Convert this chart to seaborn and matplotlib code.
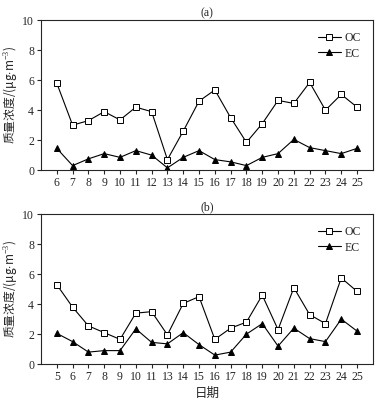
import matplotlib
matplotlib.use("Agg")
import matplotlib.pyplot as plt
import seaborn as sns
import pandas as pd

days_a = ["6", "7", "8", "9", "10", "11", "12", "13", "14", "15", "16", "17", "18", "19", "20", "21", "22", "23", "24", "25"]
oc_a = [5.8, 3.0, 3.3, 3.9, 3.35, 4.2, 3.9, 0.7, 2.6, 4.6, 5.35, 3.5, 1.85, 3.1, 4.65, 4.45, 5.85, 4.0, 5.05, 4.2]
ec_a = [1.45, 0.3, 0.75, 1.1, 0.85, 1.3, 1.0, 0.15, 0.85, 1.3, 0.7, 0.55, 0.3, 0.85, 1.1, 2.05, 1.5, 1.3, 1.1, 1.45]

days_b = ["5", "6", "7", "8", "9", "10", "11", "13", "14", "15", "16", "17", "18", "19", "20", "21", "22", "23", "24", "25"]
oc_b = [5.3, 3.8, 2.55, 2.1, 1.65, 3.4, 3.5, 1.95, 4.05, 4.5, 1.65, 2.4, 2.8, 4.6, 2.3, 5.1, 3.3, 2.7, 5.75, 4.85]
ec_b = [2.05, 1.5, 0.8, 0.9, 0.9, 2.35, 1.45, 1.35, 2.1, 1.3, 0.6, 0.8, 2.0, 2.7, 1.2, 2.4, 1.7, 1.5, 3.0, 2.2]

sns.set_style("ticks")
plt.rcParams['font.family'] = ['Liberation Serif', 'Noto Sans CJK SC']
plt.rcParams['mathtext.fontset'] = 'custom'
plt.rcParams['mathtext.rm'] = 'Liberation Serif'

fig = plt.figure(figsize=(3.85, 4.05), dpi=100)
ax1 = fig.add_axes([0.1065, 0.580, 0.862, 0.370])
ax2 = fig.add_axes([0.1065, 0.101, 0.862, 0.370])

ylabel = "质量浓度/(μg$\\cdot$m$^{-3}$)"
cjk = ['Noto Sans CJK SC', 'DejaVu Sans']

def draw(ax, days, oc, ec, title, xlabel):
    df = pd.DataFrame({"pos": range(len(days)), "OC": oc, "EC": ec})
    sns.lineplot(data=df, x="pos", y="OC", ax=ax, color="black", lw=0.8,
                 marker="s", markersize=4.5, markerfacecolor="white",
                 markeredgecolor="black", markeredgewidth=0.7, label="OC")
    sns.lineplot(data=df, x="pos", y="EC", ax=ax, color="black", lw=0.8,
                 marker="^", markersize=5, markerfacecolor="black",
                 markeredgecolor="black", markeredgewidth=0.7, label="EC")
    ax.set_xlim(-1, len(days))
    ax.set_ylim(0, 10)
    ax.set_yticks([0, 2, 4, 6, 8, 10])
    ax.set_xticks(range(len(days)))
    ax.set_xticklabels(days)
    ax.tick_params(labelsize=8.5, length=3, width=0.8, direction="out", pad=2)
    for s in ax.spines.values():
        s.set_linewidth(0.8)
        s.set_visible(True)
    ax.set_title(title, fontsize=8.5, pad=3)
    ax.set_ylabel(ylabel, fontsize=8.5, labelpad=2, family=cjk)
    ax.set_xlabel(xlabel, fontsize=9, labelpad=3, family=cjk)
    ax.legend(loc="upper right", frameon=False, fontsize=8.5, handlelength=2.0,
              handletextpad=0.3, labelspacing=0.3, borderaxespad=0.6)

draw(ax1, days_a, oc_a, ec_a, "(a)", "")
draw(ax2, days_b, oc_b, ec_b, "(b)", "日期")

fig.savefig("out.png", dpi=100)
